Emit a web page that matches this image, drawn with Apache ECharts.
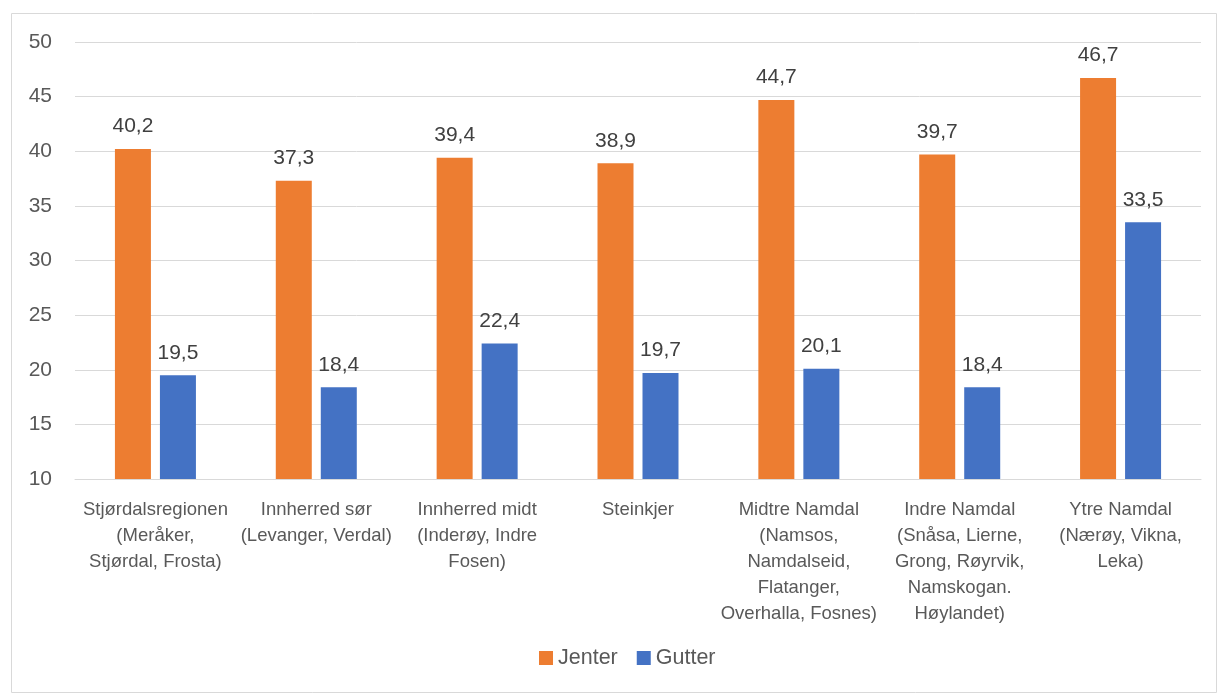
<!DOCTYPE html>
<html>
<head>
<meta charset="utf-8">
<script src="https://cdn.jsdelivr.net/npm/echarts@6/dist/echarts.min.js"></script>
<style>
html,body{margin:0;padding:0;background:#fff;}
#chart{width:1218px;height:693px;}
</style>
</head>
<body>
<div id="chart"></div>
<script>
const categories = [
  "Stjørdalsregionen\n(Meråker,\nStjørdal, Frosta)",
  "Innherred sør\n(Levanger, Verdal)",
  "Innherred midt\n(Inderøy, Indre\nFosen)",
  "Steinkjer",
  "Midtre Namdal\n(Namsos,\nNamdalseid,\nFlatanger,\nOverhalla, Fosnes)",
  "Indre Namdal\n(Snåsa, Lierne,\nGrong, Røyrvik,\nNamskogan.\nHøylandet)",
  "Ytre Namdal\n(Nærøy, Vikna,\nLeka)"
];
const jenter = [40.2, 37.3, 39.4, 38.9, 44.7, 39.7, 46.7];
const gutter = [19.5, 18.4, 22.4, 19.7, 20.1, 18.4, 33.5];
const seriesNames = ["Jenter", "Gutter"];

const font = "'Liberation Sans', Arial, sans-serif";
const fmt = p => String(p.value.toFixed(1)).replace('.', ',');

const chart = echarts.init(document.getElementById('chart'), null, {renderer: 'canvas'});
chart.setOption({
  animation: false,
  textStyle: {fontFamily: font},
  graphic: [{
    type: 'rect', silent: true,
    shape: {x: 11.5, y: 13.5, width: 1205, height: 679},
    style: {fill: null, stroke: '#d9d9d9', lineWidth: 1}
  }],
  grid: {left: 75, right: 17, top: 42, bottom: 214},
  legend: {
    bottom: 19, left: 534,
    itemWidth: 14, itemHeight: 14, itemGap: 19,
    icon: 'rect',
    textStyle: {fontSize: 21.5, color: '#595959', fontFamily: font},
    data: seriesNames
  },
  xAxis: {
    type: 'category', data: categories,
    axisLine: {lineStyle: {color: '#d9d9d9', width: 1}},
    axisTick: {show: false},
    axisLabel: {interval: 0, margin: 18, fontSize: 18.5, lineHeight: 26, color: '#595959', fontFamily: font}
  },
  yAxis: {
    type: 'value', min: 10, max: 50, interval: 5,
    axisLine: {show: false}, axisTick: {show: false},
    splitLine: {lineStyle: {color: '#d9d9d9', width: 1}},
    axisLabel: {fontSize: 21, color: '#595959', margin: 23, fontFamily: font}
  },
  series: [
    {
      name: seriesNames[0], type: 'bar', data: jenter,
      barWidth: 36, barGap: '25%',
      itemStyle: {color: '#ED7D31'},
      label: {show: true, position: 'top', distance: 12, fontSize: 21, color: '#404040', formatter: fmt, fontFamily: font}
    },
    {
      name: seriesNames[1], type: 'bar', data: gutter,
      barWidth: 36, barGap: '25%',
      itemStyle: {color: '#4472C4'},
      label: {show: true, position: 'top', distance: 12, fontSize: 21, color: '#404040', formatter: fmt, fontFamily: font}
    }
  ]
});
</script>
</body>
</html>
